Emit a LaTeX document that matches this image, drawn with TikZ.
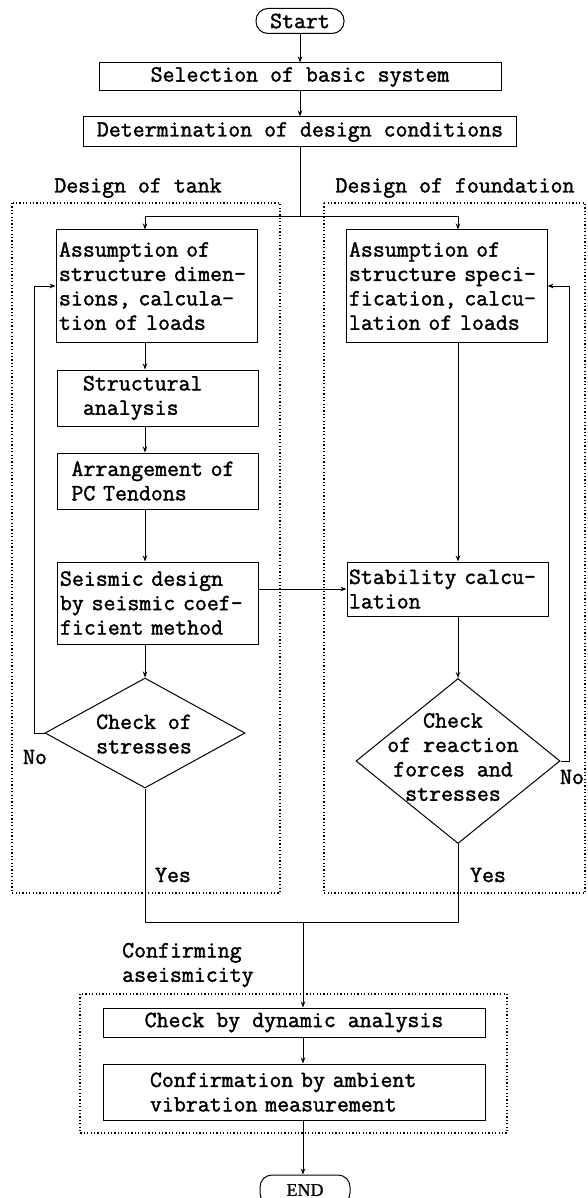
\documentclass[tikz,border=0pt]{standalone}
\usepackage{fontspec}
\usetikzlibrary{shapes.geometric, arrows.meta, positioning}

\newfontfamily\flowfont[FakeBold=1.6]{Latin Modern Mono}
\newfontfamily\endfont[FakeBold=1]{Liberation Serif}
\newcommand{\flowtext}{\flowfont\fontsize{23.2pt}{24.4pt}\selectfont}

\tikzset{
  flowbox/.style={draw, line width=1pt, rectangle, align=left, inner ysep=0pt, font=\flowtext},
  widebox/.style={flowbox, align=center, inner xsep=0pt},
  term/.style={draw, line width=1pt, rounded corners=12pt, inner sep=0pt},
  check/.style={draw, line width=1pt, diamond, inner sep=0pt},
  arr/.style={line width=1pt, -{Stealth[length=6pt,width=4.5pt]}},
  link/.style={line width=1pt},
  frame/.style={line width=1.3pt, dash pattern=on 1.2pt off 2.2pt},
  caption/.style={font=\flowtext, align=left, inner sep=0pt},
}

\begin{document}
\begin{tikzpicture}[x=1pt, y=-1pt]

    \useasboundingbox (0,0) rectangle (587,1198);

    % Top
    \node[term, minimum width=88pt, minimum height=25pt, font=\flowtext] (start) at (300,21) {Start};
    \node[widebox, minimum width=402pt, minimum height=28pt] (select) at (300,77) {Selection of basic system};
    \node[widebox, minimum width=433pt, minimum height=30pt] (cond) at (300,132) {Determination of design conditions};

    % Axes
    \coordinate (tankaxis) at (145,0);
    \coordinate (fndaxis) at (458,0);
    \coordinate (split) at (300,217);
    \coordinate (join) at (303,922);
    \coordinate (tankback) at (34,0);
    \coordinate (fndback) at (569,0);

    % Design of tank
    \node[caption] (tanklabel) at (138,188) {Design of tank};
    \node[flowbox, text width=195pt, inner xsep=3pt, minimum height=112pt] (tank1) at (156.5,286) {Assumption of\\structure dimen-\\sions, calcula-\\tion of loads};
    \node[flowbox, text width=149pt, inner xsep=26pt, minimum height=56pt] (tank2) at (157.5,398) {Structural\\analysis};
    \node[flowbox, text width=172pt, inner xsep=14.5pt, minimum height=56pt] (tank3) at (157.5,481) {Arrangement of\\PC Tendons};
    \node[flowbox, text width=195pt, inner xsep=3pt, minimum height=82pt] (tank4) at (157.5,603) {Seismic design\\by seismic coef-\\ficient method};
    \node[check, minimum width=200pt, minimum height=110pt] (tankchk) at (145,733) {};
    \node[caption, align=center] (tankchktxt) at (144,734) {Check of\\stresses};
    \node[caption] (tankno) at (35,757) {No};
    \node[caption] (tankyes) at (173,875) {Yes};

    % Design of foundation
    \node[caption] (fndlabel) at (455,188) {Design of foundation};
    \node[flowbox, text width=195pt, inner xsep=3pt, minimum height=112pt] (fnd1) at (446.5,286) {Assumption of\\structure speci-\\fication, calcu-\\lation of loads};
    \node[flowbox, text width=197pt, inner xsep=2pt, minimum height=54pt] (fnd2) at (447.5,589) {Stability calcu-\\lation};
    \node[check, minimum width=204pt, minimum height=165pt] (fndchk) at (458,761) {};
    \node[caption, align=center] (fndchktxt) at (453,757) {Check\\of reaction\\forces and\\stresses};
    \node[caption] (fndno) at (572,777) {No};
    \node[caption] (fndyes) at (488,875) {Yes};

    % Confirming aseismicity
    \node[caption, anchor=west] (conflabel) at (122,965) {Confirming\\aseismicity};
    \node[widebox, minimum width=382pt, minimum height=29pt] (dyn) at (294,1022.5) {Check by dynamic analysis};
    \node[flowbox, text width=288pt, inner xsep=47pt, minimum height=56pt] (ambient) at (294,1092) {Confirmation by ambient\\vibration measurement};
    \node[term, minimum width=90pt, minimum height=30pt, font=\endfont\fontsize{18pt}{20pt}\selectfont] (finish) at (305,1190) {END};

    % Frames
    \draw[frame] (12,203) rectangle (280,893);
    \draw[frame] (324,203) rectangle (585,893);
    \draw[frame] (80,994) rectangle (507,1133);

    % Connectors
    \draw[arr] (start) -- (select);
    \draw[arr] (select) -- (cond);
    \draw[link] (cond) -- (split);
    \draw[arr] (split) -| (tank1.north -| tankaxis);
    \draw[arr] (split) -| (fnd1.north -| fndaxis);

    \draw[arr] (tank1.south -| tankaxis) -- (tank2.north -| tankaxis);
    \draw[arr] (tank2.south -| tankaxis) -- (tank3.north -| tankaxis);
    \draw[arr] (tank3.south -| tankaxis) -- (tank4.north -| tankaxis);
    \draw[arr] (tank4.south -| tankaxis) -- (tankchk.north);
    \draw[arr] (tankchk.west) -| (tankback |- tank1.west) -- (tank1.west);

    \draw[arr] (tank4.east |- fnd2.west) -- (fnd2.west);
    \draw[arr] (fnd1.south -| fndaxis) -- (fnd2.north -| fndaxis);
    \draw[arr] (fnd2.south -| fndaxis) -- (fndchk.north);
    \draw[arr] (fndchk.east) -| (fndback |- fnd1.east) -- (fnd1.east);

    \draw[link] (tankchk.south) |- (join) -| (fndchk.south);
    \draw[arr] (join) -- (dyn.north -| join);
    \draw[arr] (dyn.south -| join) -- (ambient.north -| join);
    \draw[arr] (ambient.south -| join) -- (finish.north -| join);

\end{tikzpicture}
\end{document}
